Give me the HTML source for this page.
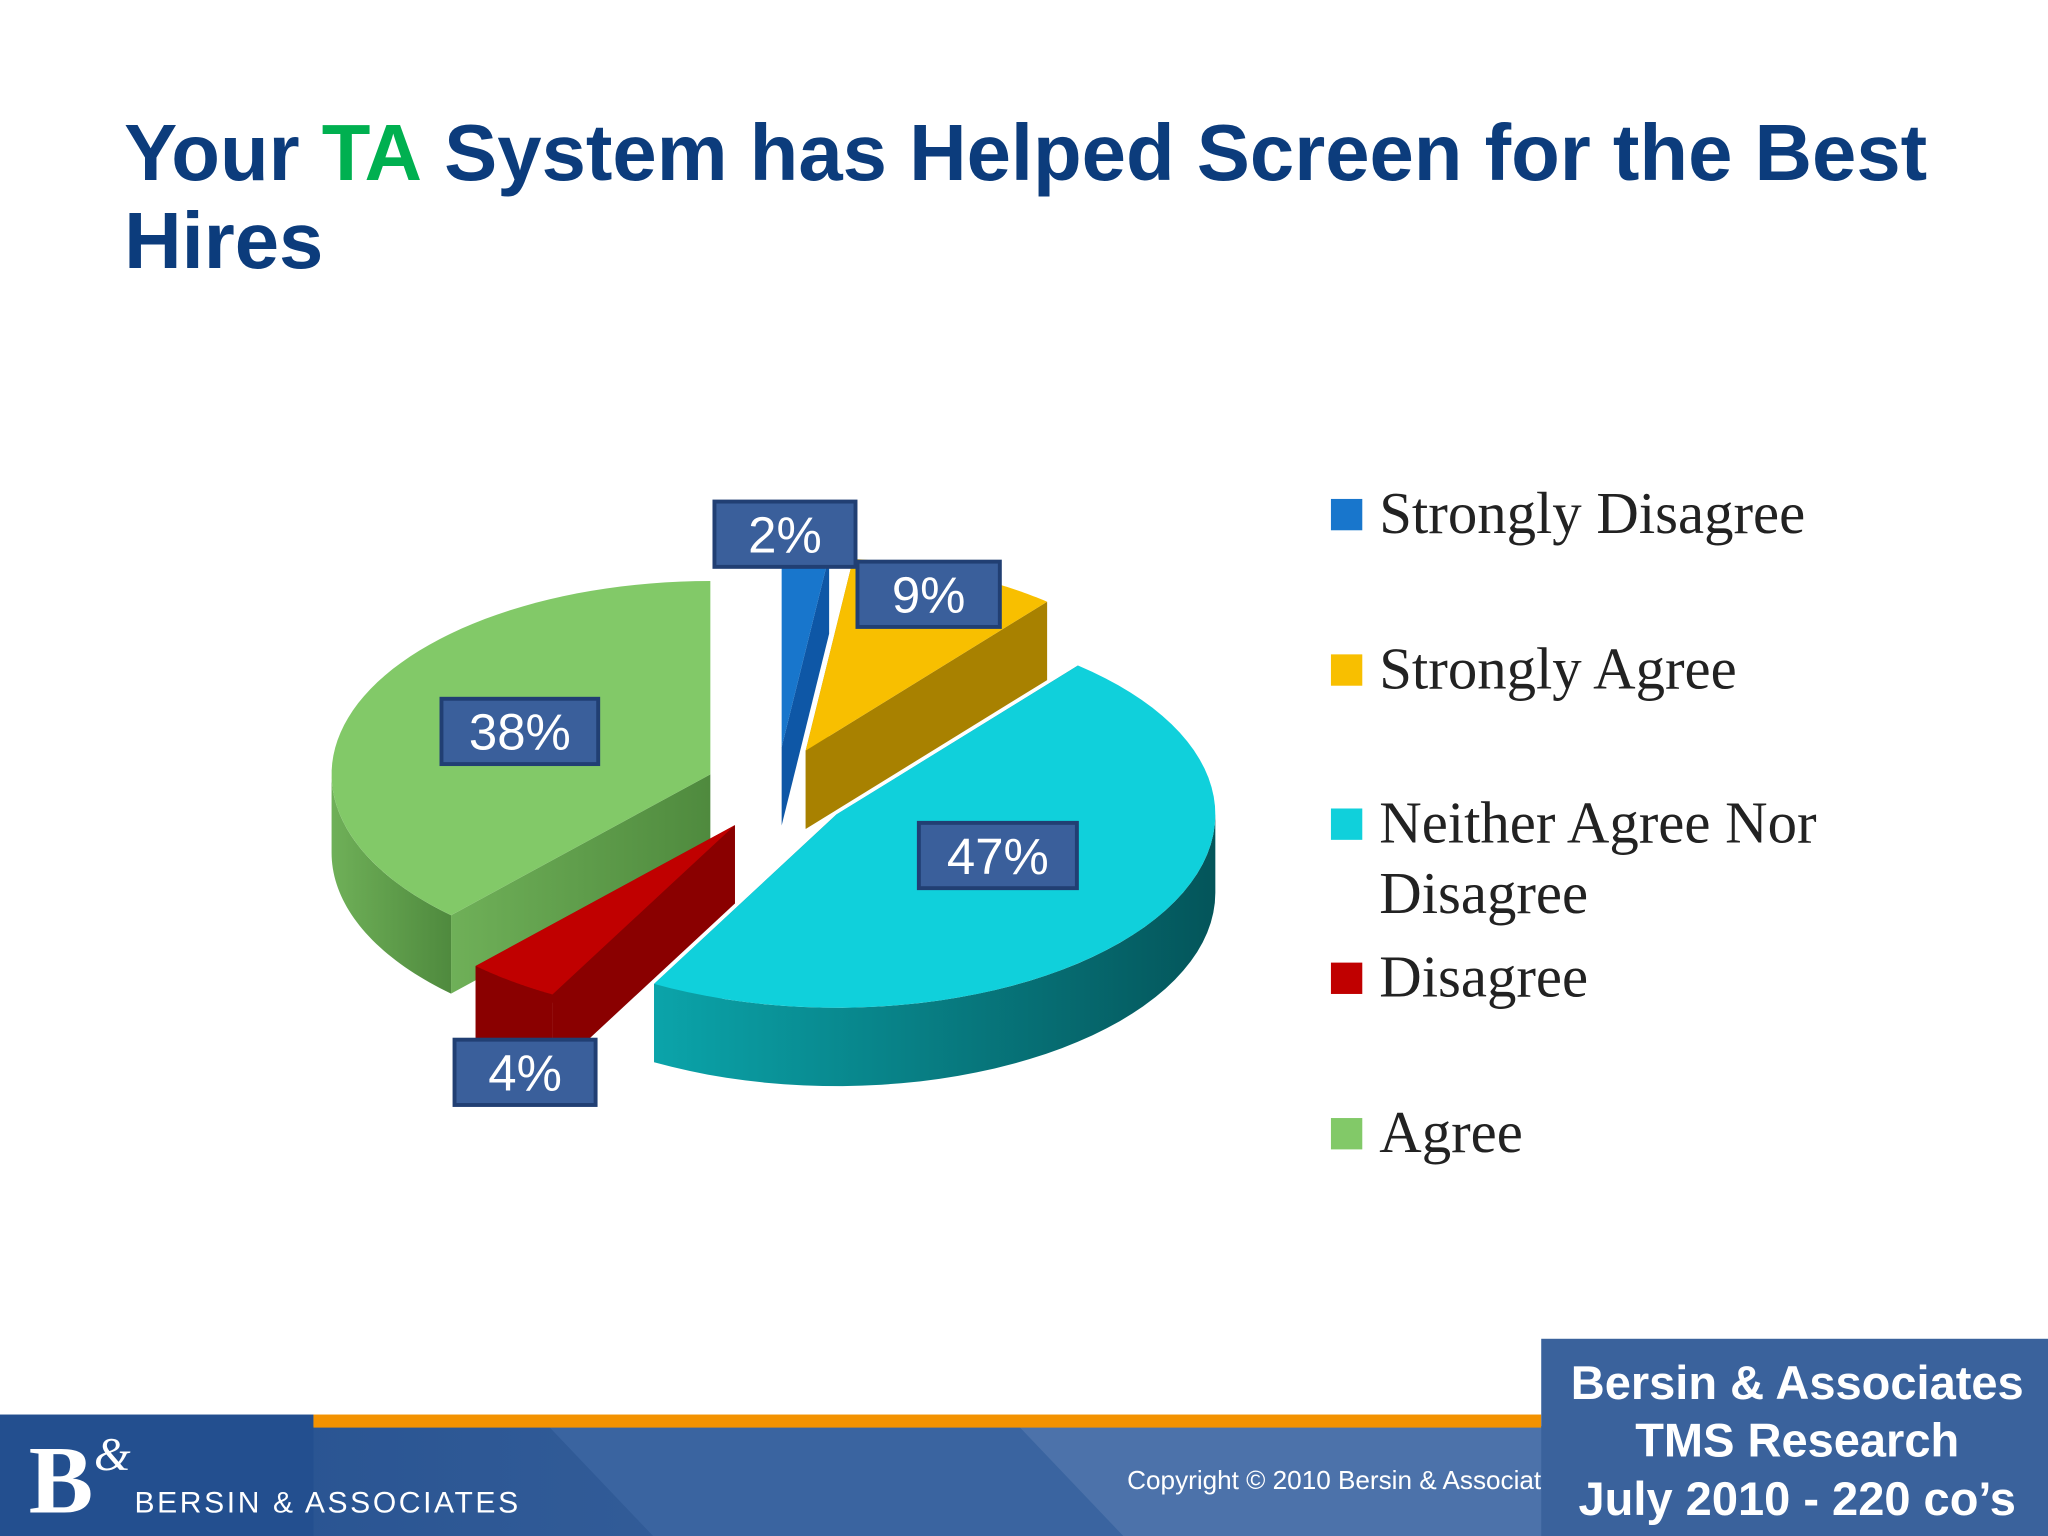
<!DOCTYPE html>
<html><head><meta charset="utf-8"><style>
html,body{margin:0;padding:0;background:#fff;}
svg{display:block;}
</style></head><body>
<svg width="2048" height="1536" viewBox="0 0 1568 1176" xmlns="http://www.w3.org/2000/svg">
<defs>
<linearGradient id="cyanSide" x1="0" x2="1" y1="0" y2="0"><stop offset="0" stop-color="#0BA4AA"/><stop offset="1" stop-color="#04555A"/></linearGradient>
<linearGradient id="greenSide" x1="0" x2="1"><stop offset="0" stop-color="#6FB058"/><stop offset="1" stop-color="#4F8A3E"/></linearGradient>
<linearGradient id="footBand" x1="0" x2="1"><stop offset="0" stop-color="#244F8E"/><stop offset="1" stop-color="#4E76AC"/></linearGradient>
</defs>
<rect x="0" y="0" width="1568" height="1176" fill="#ffffff"/>
<text font-family="Liberation Sans, sans-serif" font-weight="bold" font-size="61" fill="#0C3C7C"><tspan x="95" y="138">Your <tspan fill="#00B050">TA</tspan> System has Helped Screen for the Best</tspan><tspan x="95" y="205">Hires</tspan></text>
<g id="pie"></g>
<g id="legend"></g>
<g>
<rect x="0" y="1092" width="1568" height="84" fill="url(#footBand)"/>
<polygon points="420,1092 780,1092 860,1176 500,1176" fill="#3A64A0"/>
<polygon points="780,1092 1568,1092 1568,1176 860,1176" fill="#4C72AA"/>
<rect x="0" y="1083" width="240" height="93" fill="#234F8F"/>
<rect x="240" y="1083" width="940" height="10" fill="#F39200"/>
<text x="22" y="1158" font-family="Liberation Serif, serif" font-weight="bold" font-size="74" fill="#ffffff">B</text>
<text x="72" y="1125" font-family="Liberation Serif, serif" font-style="italic" font-size="36" fill="#ffffff">&amp;</text>
<text x="103" y="1158" font-family="Liberation Sans, sans-serif" font-size="23" letter-spacing="2" fill="#ffffff">BERSIN &amp; ASSOCIATES</text>
<text x="863" y="1140" font-family="Liberation Sans, sans-serif" font-size="20" fill="#ffffff">Copyright © 2010 Bersin &amp; Associates</text>
<rect x="1180" y="1025" width="388" height="151" fill="#3A629C"/>
<text font-family="Liberation Sans, sans-serif" font-weight="bold" font-size="36" fill="#ffffff" text-anchor="middle"><tspan x="1376" y="1071">Bersin &amp; Associates</tspan><tspan x="1376" y="1115">TMS Research</tspan><tspan x="1376" y="1160">July 2010 - 220 co’s</tspan></text>
</g>
</svg>
<script>
const categories = ["Strongly Disagree","Strongly Agree","Neither Agree Nor Disagree","Disagree","Agree"];
const values = [2, 9, 47, 4, 38];
const valueLabels = ["2%","9%","47%","4%","38%"];
const topColors = ["#1876CC","#F8BF00","#10D0DB","#C00000","#82C968"];
const sideColors = ["#0E57A6","#A88100","url(#cyanSide)","#8A0000","url(#greenSide)"];
const NS = "http://www.w3.org/2000/svg";
const pie = document.getElementById('pie');
const cx = 595, cy = 605, rx = 290, ry = 148, depth = 60, E = 55;
function pt(ox, oy, a, dz) { return [ox + rx*Math.sin(a), oy - ry*Math.cos(a) + (dz||0)]; }
function mk(tag, attrs) { const e = document.createElementNS(NS, tag); for (const k in attrs) e.setAttribute(k, attrs[k]); return e; }
const total = values.reduce((a,b)=>a+b,0);
let acc = 0;
const slices = values.map((v,i)=>{ const a0 = acc/total*2*Math.PI; acc += v; const a1 = acc/total*2*Math.PI; return {i,a0,a1,mid:(a0+a1)/2}; });
slices.forEach(s=>{ s.ox = cx + E*Math.sin(s.mid); s.oy = cy - E*0.6*Math.cos(s.mid); });
const order = slices.slice().sort((a,b)=>(a.oy - ry*0.3*Math.cos(a.mid)) - (b.oy - ry*0.3*Math.cos(b.mid)));
order.forEach(s=>{
  const g = mk('g', {});
  
  
  const O = [s.ox, s.oy];
  const quad = (a)=>{ const p = pt(s.ox,s.oy,a); const q = [O[0],O[1]+depth], r=[p[0],p[1]+depth];
    return `M${O[0]},${O[1]} L${p[0]},${p[1]} L${r[0]},${r[1]} L${q[0]},${q[1]} Z`; };
  const faces = [s.a0, s.a1].map(a=>({a, d: quad(a), y: pt(s.ox,s.oy,a)[1]})).sort((p,q)=>p.y-q.y);
  faces.forEach(f=>{ const e = mk('path',{d:f.d, fill: sideColors[s.i]});   g.appendChild(e); });
  const lo = Math.max(s.a0, Math.PI/2), hi = Math.min(s.a1, 1.5*Math.PI);
  if (hi > lo) {
    const n = 40; let d = '';
    for (let k=0;k<=n;k++){ const p = pt(s.ox,s.oy, lo+(hi-lo)*k/n); d += (k?'L':'M')+p[0]+','+p[1]+' '; }
    for (let k=n;k>=0;k--){ const p = pt(s.ox,s.oy, lo+(hi-lo)*k/n, depth); d += 'L'+p[0]+','+p[1]+' '; }
    const e = mk('path',{d:d+'Z', fill: sideColors[s.i]});   g.appendChild(e);
  }
  let d = `M${O[0]},${O[1]} `; const n = 60;
  for (let k=0;k<=n;k++){ const p = pt(s.ox,s.oy, s.a0+(s.a1-s.a0)*k/n); d += 'L'+p[0]+','+p[1]+' '; }
  const top = mk('path',{d:d+'Z', fill: topColors[s.i]});   g.appendChild(top);
  pie.appendChild(g);
});
const labelPos = [[601,409],[711,455],[398,560],[764,655],[402,821]];
const labelW = [108,109,120,121,108];
const labelIdx = [0,1,4,2,3];
labelIdx.forEach((i,k)=>{
  const [x,y] = labelPos[k]; const w = labelW[k];
  const g = mk('g',{});
  
  
  g.appendChild(mk('rect',{x:x-w/2,y:y-25,width:w,height:50,fill:'#3A5F9B',stroke:'#213F73','stroke-width':3}));
  const t = mk('text',{x:x,y:y+14,'text-anchor':'middle','font-family':'Liberation Sans, sans-serif','font-size':39,fill:'#ffffff'});
  t.textContent = valueLabels[i]; g.appendChild(t); pie.appendChild(g);
});
const legend = document.getElementById('legend');
const legendY = [394,513,631,749,868];
categories.forEach((c,i)=>{
  const g = mk('g',{});
  
  
  g.appendChild(mk('rect',{x:1019,y:legendY[i]-12,width:24,height:24,fill:topColors[i]}));
  const t = mk('text',{x:1056,y:legendY[i]+14,'font-family':'Liberation Serif, serif','font-size':45,fill:'#222'});
  if (c === "Neither Agree Nor Disagree") {
    const a = mk('tspan',{x:1056}); a.textContent = "Neither Agree Nor"; t.appendChild(a);
    const b = mk('tspan',{x:1056,dy:54}); b.textContent = "Disagree"; t.appendChild(b);
  } else t.textContent = c;
  g.appendChild(t); legend.appendChild(g);
});
</script>
</body></html>
